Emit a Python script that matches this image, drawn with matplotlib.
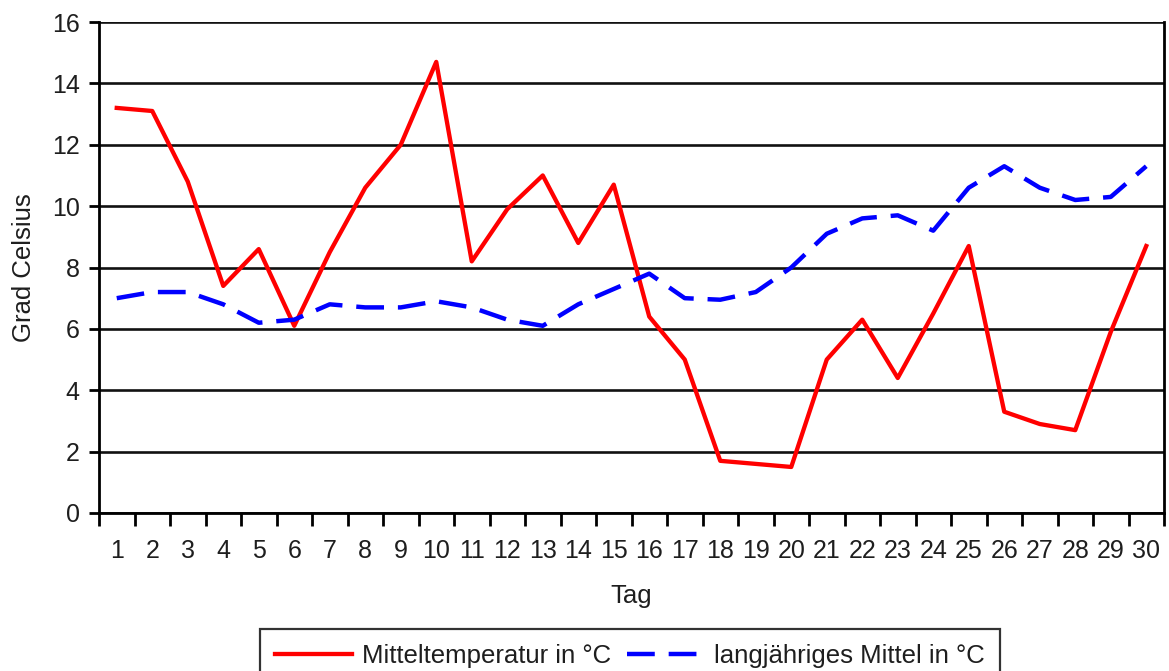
import matplotlib
matplotlib.use("Agg")
import matplotlib.pyplot as plt
import numpy as np

days = list(range(1, 31))
mitteltemperatur = [13.2, 13.1, 10.8, 7.4, 8.6, 6.1, 8.5, 10.6, 12.0, 14.7,
                    8.2, 9.9, 11.0, 8.8, 10.7, 6.4, 5.0, 1.7, 1.6, 1.5,
                    5.0, 6.3, 4.4, 6.5, 8.7, 3.3, 2.9, 2.7, 5.9, 8.7]
langjaehriges_mittel = [7.0, 7.2, 7.2, 6.8, 6.2, 6.3, 6.8, 6.7, 6.7, 6.9,
                        6.7, 6.3, 6.1, 6.8, 7.3, 7.8, 7.0, 6.95, 7.2, 8.0,
                        9.1, 9.6, 9.7, 9.2, 10.6, 11.3, 10.6, 10.2, 10.3, 11.3]
y_ticks = [0, 2, 4, 6, 8, 10, 12, 14, 16]

plt.rcParams['font.family'] = ['Liberation Sans', 'DejaVu Sans']
plt.rcParams['lines.scale_dashes'] = False

FS_TICK = 18
FS = 18.5
TXT = '#1e1e1e'

fig = plt.figure(figsize=(11.69, 6.71), dpi=100)
ax = fig.add_axes([99/1169, 1-513/671, (1164-99)/1169, (513-22)/671])

for y in y_ticks:
    ax.axhline(y, color='#111111', lw=1.9, zorder=1)

ax.plot(days, mitteltemperatur, color='#ff0000', lw=3.1, zorder=3,
        label='Mitteltemperatur in °C')
ax.plot(days, langjaehriges_mittel, color='#0000ff', lw=3.2, zorder=3,
        dashes=(20, 10), label='langjähriges Mittel in °C')

ax.set_xlim(0.5, 30.5)
ax.set_ylim(0, 16)
ax.set_yticks(y_ticks)
ax.set_yticklabels([str(v) for v in y_ticks])
ax.set_xticks(np.arange(0.5, 31, 1.0))
ax.set_xticks(days, minor=True)
ax.set_xticklabels([])
ax.set_xticklabels([str(d) for d in days], minor=True)
ax.tick_params(axis='x', which='major', length=9, width=2.0, direction='out', color='black')
ax.tick_params(axis='x', which='minor', length=0, pad=19, labelsize=FS_TICK, labelcolor=TXT)
ax.tick_params(axis='y', length=7, width=2.0, direction='out', pad=7, labelsize=FS_TICK,
               labelcolor=TXT, color='black')

for side in ['left', 'right', 'bottom']:
    ax.spines[side].set_linewidth(2.0)
    ax.spines[side].set_color('black')
ax.spines['top'].set_visible(False)

ax.set_xlabel('Tag', fontsize=FS, color=TXT, labelpad=15)
ax.set_ylabel('Grad Celsius', fontsize=FS, color=TXT, labelpad=11)

leg = fig.legend(loc='upper center', bbox_to_anchor=(630/1169, 1-629/671), ncol=2,
                 fontsize=FS, frameon=True, fancybox=False, edgecolor='black',
                 handlelength=3.0, columnspacing=0.6, handletextpad=0.4,
                 borderpad=0.6, borderaxespad=0, labelcolor=TXT)
leg.get_frame().set_linewidth(1.6)

fig.savefig('out.png', dpi=100, facecolor='white')
